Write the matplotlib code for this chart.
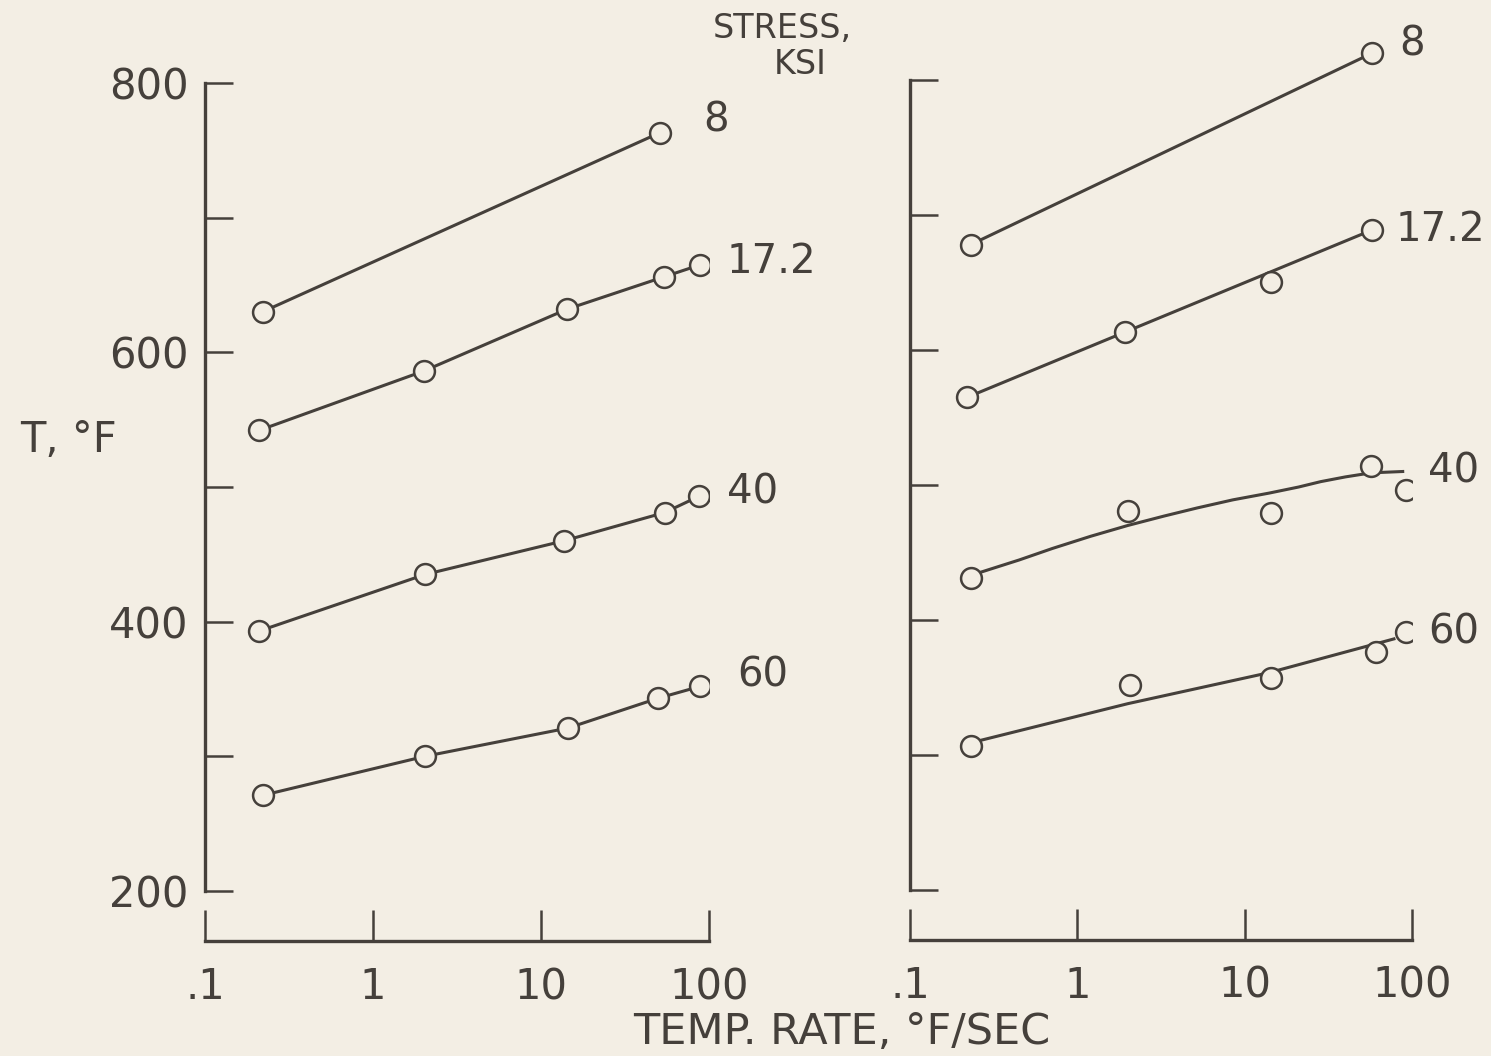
import matplotlib
matplotlib.use("Agg")
import matplotlib.pyplot as plt
import numpy as np

# ---------------- data ----------------
stress_labels = ["8", "17.2", "40", "60"]

# left panel: measured points, joined by straight segments
left_x = {
    "8":    [0.22, 51],
    "17.2": [0.21, 2.0, 14.3, 54, 89],
    "40":   [0.21, 2.04, 13.7, 54.5, 87],
    "60":   [0.22, 2.04, 14.5, 49.4, 89],
}
left_T = {
    "8":    [630, 763],
    "17.2": [542, 586, 632, 656, 665],
    "40":   [393, 435, 460, 481, 493],
    "60":   [271, 300, 321, 343, 352],
}

# right panel: measured points
right_x = {
    "8":    [0.23, 58],
    "17.2": [0.22, 1.93, 14.3, 58],
    "40":   [0.23, 2.0, 14.3, 57, 92],
    "60":   [0.23, 2.07, 14.3, 61, 92],
}
right_T = {
    "8":    [678, 820],
    "17.2": [565, 613, 650, 689],
    "40":   [431, 481, 479, 514, 496],
    "60":   [307, 352, 357, 376, 391],
}
# right panel: faired curves
fit_x = {
    "8":    [0.23, 58],
    "17.2": [0.22, 58],
    "40":   [0.23, 0.45, 0.71, 1.2, 2.0, 3.3, 5.2, 8.5, 14, 21, 28.5, 40, 57, 88],
    "60":   [0.23, 2.0, 14, 78],
}
fit_T = {
    "8":    [678, 820],
    "17.2": [565, 689],
    "40":   [433, 444.5, 453, 462, 470, 477, 483, 489, 494, 498.5, 502.5, 506, 509, 510],
    "60":   [309, 338, 361, 386],
}

x_ticks = [0.1, 1, 10, 100]
x_ticklabels = [".1", "1", "10", "100"]
y_ticks = [200, 300, 400, 500, 600, 700, 800]
y_ticklabels = ["200", "", "400", "", "600", "", "800"]

# label anchor positions (data coords: x rate, T)
left_lab_x = {"8": 92, "17.2": 128, "40": 128, "60": 148}
left_lab_T = {"8": 772, "17.2": 667, "40": 496, "60": 360}
right_lab_x = {"8": 84, "17.2": 80, "40": 125, "60": 125}
right_lab_T = {"8": 826, "17.2": 689, "40": 510, "60": 391}

# ---------------- style ----------------
BG = "#f3eee4"
INK = "#45403b"
plt.rcParams['font.family'] = ['DejaVu Sans']

fig = plt.figure(figsize=(14.91, 10.56), dpi=100, facecolor=BG)

ax_l = fig.add_axes([205/1491, 1-891/1056, 504/1491, (891-29)/1056])
ax_r = fig.add_axes([910/1491, 1-890/1056, 502/1491, (890-26)/1056])

for ax in (ax_l, ax_r):
    ax.set_facecolor(BG)
    ax.set_xscale("log")
    ax.set_xlim(0.1, 100)
    ax.set_ylim(200, 840)
    for s in ("top", "right"):
        ax.spines[s].set_visible(False)
    ax.spines["left"].set_bounds(200, 800)
    ax.spines["bottom"].set_bounds(0.1, 100)
    ax.spines["bottom"].set_position(("outward", 36))
    for s in ("left", "bottom"):
        ax.spines[s].set_linewidth(2.4)
        ax.spines[s].set_color(INK)
    ax.set_xticks(x_ticks)
    ax.xaxis.set_minor_locator(matplotlib.ticker.NullLocator())
    ax.set_yticks(y_ticks)
    ax.tick_params(axis="both", direction="in", color=INK, width=1.8,
                   labelcolor=INK, labelsize=30)
    ax.tick_params(axis="y", length=20, pad=12)
    ax.tick_params(axis="x", length=22, pad=18)
    ax.set_xticklabels(x_ticklabels)

ax_l.set_yticklabels(y_ticklabels)
ax_r.set_yticklabels([])

mk = dict(marker="o", ms=15, mfc=BG, mec=INK, mew=1.8, ls="none", zorder=3)

for lab in stress_labels:
    ax_l.plot(left_x[lab], left_T[lab], color=INK, lw=2.2, zorder=2)
    ax_l.plot(left_x[lab], left_T[lab], **mk)
    ax_r.plot(fit_x[lab], fit_T[lab], color=INK, lw=2.2, zorder=2)
    ax_r.plot(right_x[lab], right_T[lab], **mk)
    ax_l.text(left_lab_x[lab], left_lab_T[lab], lab, fontsize=29, color=INK,
              ha="left", va="center", clip_on=False)
    ax_r.text(right_lab_x[lab], right_lab_T[lab], lab, fontsize=29, color=INK,
              ha="left", va="center", clip_on=False)

fig.text(782/1491, 1-29/1056, "STRESS,", fontsize=24, color=INK, ha="center", va="center")
fig.text(800/1491, 1-65/1056, "KSI", fontsize=24, color=INK, ha="center", va="center")
fig.text(68/1491, 1-440/1056, "T, °F", fontsize=30, color=INK, ha="center", va="center")
fig.text(842/1491, 1-1032/1056, "TEMP. RATE, °F/SEC", fontsize=31, color=INK,
         ha="center", va="center")

fig.savefig("out.png", dpi=100, facecolor=BG)
